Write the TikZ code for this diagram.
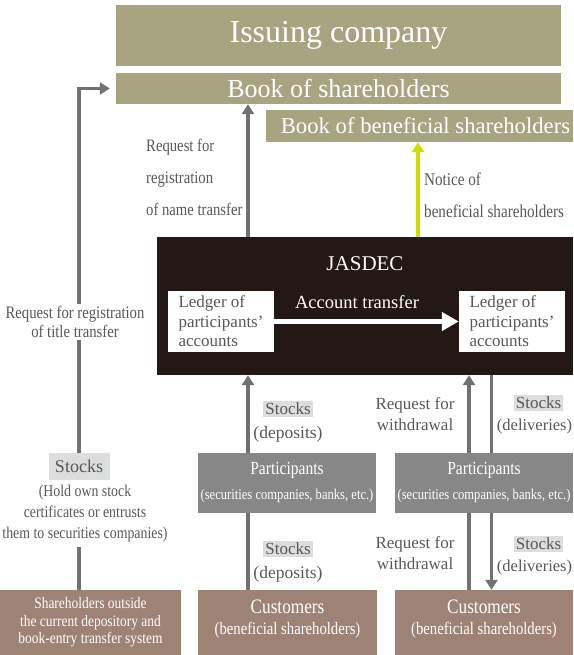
\documentclass[tikz,border=0pt]{standalone}
\usepackage{fontspec}
\setmainfont{Liberation Serif}
\newfontfamily\narrowfont[FakeStretch=0.84]{Liberation Serif}
\usetikzlibrary{positioning}
\usetikzlibrary{arrows.meta}
\usetikzlibrary{calc}

\definecolor{olivebox}{HTML}{A8A482}
\definecolor{jasdecbg}{HTML}{231815}
\definecolor{partgray}{HTML}{878787}
\definecolor{custbrown}{HTML}{9E8276}
\definecolor{stockbg}{HTML}{DCDDDD}
\definecolor{flowgray}{HTML}{727171}
\definecolor{noticegreen}{HTML}{D3DC00}
\definecolor{labelgray}{HTML}{595757}

\newcommand{\fsz}[2]{\fontsize{#1}{#2}\selectfont}

\tikzset{
    box/.style={fill=#1, inner sep=0pt, text=white, align=center},
    ledger/.style={fill=white, inner sep=0pt, minimum width=106, minimum height=61,
        text=labelgray, align=left, font=\fsz{17}{19.5}},
    stocklabel/.style={fill=stockbg, inner sep=2pt, text=labelgray, font=\fsz{17}{17}},
    note/.style={text=labelgray, inner sep=0pt, font=\fsz{17}{17}},
    flow/.style={draw=flowgray, line width=3.5pt},
    flowarrow/.style={flow, -{Triangle[length=10pt, width=12pt]}}
}

\begin{document}
\begin{tikzpicture}[x=1pt, y=-1pt]
    \useasboundingbox (0,0) rectangle (573,655);

    % top: company and books
    \node[box=olivebox, minimum width=445, minimum height=61, font=\fsz{32}{32}] (issuer) at (338.5,35.5) {Issuing company};
    \node[box=olivebox, minimum width=445, minimum height=31, font=\fsz{26}{26}] (book) at (338.5,88.5) {Book of shareholders};
    \node[box=olivebox, minimum width=307, minimum height=32, font=\fsz{22.7}{22.7}] (beneficial) at (419.5,126) {\hspace*{12pt}Book of beneficial shareholders};

    % JASDEC
    \node[box=jasdecbg, minimum width=416, minimum height=138] (jasdec) at (365,306) {};
    \node[text=white, font=\fsz{21}{21}] (jasdectitle) at (365,264) {JASDEC};
    \node[ledger] (ledgerL) at (221,321.5) {Ledger of\\participants'\\accounts};
    \node[ledger] (ledgerR) at (512,321.5) {Ledger of\\participants'\\accounts};
    \draw[white, line width=5pt, -{Triangle[length=17pt, width=18pt]}] (ledgerL) -- (ledgerR);
    \node[text=white, font=\fsz{18.5}{18.5}] (transfer) at (357,302) {Account transfer};

    % participants and customers
    \node[box=partgray, minimum width=178, minimum height=60] (partL) at (287,483) {};
    \node[text=white, font=\narrowfont\fsz{18.5}{18.5}] at (287,470) {Participants};
    \node[text=white, font=\narrowfont\fsz{15}{15}] at (287,496) {(securities companies, banks, etc.)};
    \node[box=partgray, minimum width=178, minimum height=60] (partR) at (484,483) {};
    \node[text=white, font=\narrowfont\fsz{18.5}{18.5}] at (484,470) {Participants};
    \node[text=white, font=\narrowfont\fsz{15}{15}] at (484,496) {(securities companies, banks, etc.)};

    \node[box=custbrown, minimum width=179, minimum height=65] (custL) at (287.5,622.5) {};
    \node[text=white, font=\narrowfont\fsz{20.5}{20.5}] at (287.5,607) {Customers};
    \node[text=white, font=\narrowfont\fsz{17.5}{17.5}] at (287.5,630) {(beneficial shareholders)};
    \node[box=custbrown, minimum width=178, minimum height=65] (custR) at (484,622.5) {};
    \node[text=white, font=\narrowfont\fsz{20.5}{20.5}] at (484,607) {Customers};
    \node[text=white, font=\narrowfont\fsz{17.5}{17.5}] at (484,630) {(beneficial shareholders)};

    \node[box=custbrown, minimum width=181, minimum height=65, font=\narrowfont\fsz{16}{17.5}] (outside) at (90.5,622.5)
        {Shareholders outside\\the current depository and\\book-entry transfer system};

    % lanes
    \coordinate (titlelane) at (79,0);
    \coordinate (leftlane) at (248,0);
    \coordinate (noticelane) at (418,0);
    \coordinate (uplane) at (469,0);
    \coordinate (downlane) at (491.5,0);

    % title transfer (left)
    \node[stocklabel, minimum width=61, minimum height=27, font=\fsz{18}{18}] (titlestock) at (titlelane |- 0,466.5) {Stocks};
    \node[note, align=center, font=\narrowfont\fsz{16.5}{21}] (holdnote) at (85,514) {(Hold own stock\\certificates or entrusts\\them to securities companies)};
    \draw[flow] (outside.north -| titlelane) -- (titlelane |- 0,547);
    \draw[flowarrow] (titlestock.north) |- ($(book.west)+(-6,0)$);
    \node[note, fill=white, align=center, font=\narrowfont\fsz{17.5}{19}, inner sep=2pt] (titlenote) at (75,322)
        {Request for registration\\of title transfer};

    % name transfer and notice
    \draw[flowarrow] (jasdec.north -| leftlane) -- (book.south -| leftlane);
    \node[note, align=left, anchor=north west, font=\narrowfont\fsz{17.5}{32}] (namenote) at (146,139)
        {Request for\\registration\\of name transfer};
    \draw[draw=noticegreen, line width=3.5pt, -{Triangle[length=10pt, width=12pt]}] (jasdec.north -| noticelane) -- (beneficial.south -| noticelane);
    \node[note, align=left, anchor=north west, font=\narrowfont\fsz{18}{32}] (noticenote) at (424,173)
        {Notice of\\beneficial shareholders};

    % deposits (middle)
    \draw[flowarrow] (partL.north -| leftlane) -- (jasdec.south -| leftlane);
    \draw[flow] (custL.north -| leftlane) -- (partL.south -| leftlane);
    \node[stocklabel] (stockA) at (288,409) {Stocks};
    \node[note, font=\fsz{17.5}{17.5}] (depositA) at (288,434) {(deposits)};
    \node[stocklabel] (stockB) at (288,549) {Stocks};
    \node[note, font=\fsz{17.5}{17.5}] (depositB) at (288,574) {(deposits)};

    % withdrawal and deliveries (right)
    \draw[flowarrow] (partR.north -| uplane) -- (jasdec.south -| uplane);
    \draw[flow] (jasdec.south -| downlane) -- (partR.north -| downlane);
    \draw[flow] (custR.north -| uplane) -- (partR.south -| uplane);
    \draw[flowarrow] (partR.south -| downlane) -- (custR.north -| downlane);
    \node[note, align=center, font=\fsz{17}{21}] (withdrawA) at (415,414) {Request for\\withdrawal};
    \node[note, align=center, font=\fsz{17}{21}] (withdrawB) at (415,553) {Request for\\withdrawal};
    \node[stocklabel] (stockC) at (538.5,403) {Stocks};
    \node[note, font=\fsz{16.5}{16.5}] (deliverC) at (534.5,427) {(deliveries)};
    \node[stocklabel] (stockD) at (538.5,544) {Stocks};
    \node[note, font=\fsz{16.5}{16.5}] (deliverD) at (534.5,568) {(deliveries)};
\end{tikzpicture}
\end{document}
